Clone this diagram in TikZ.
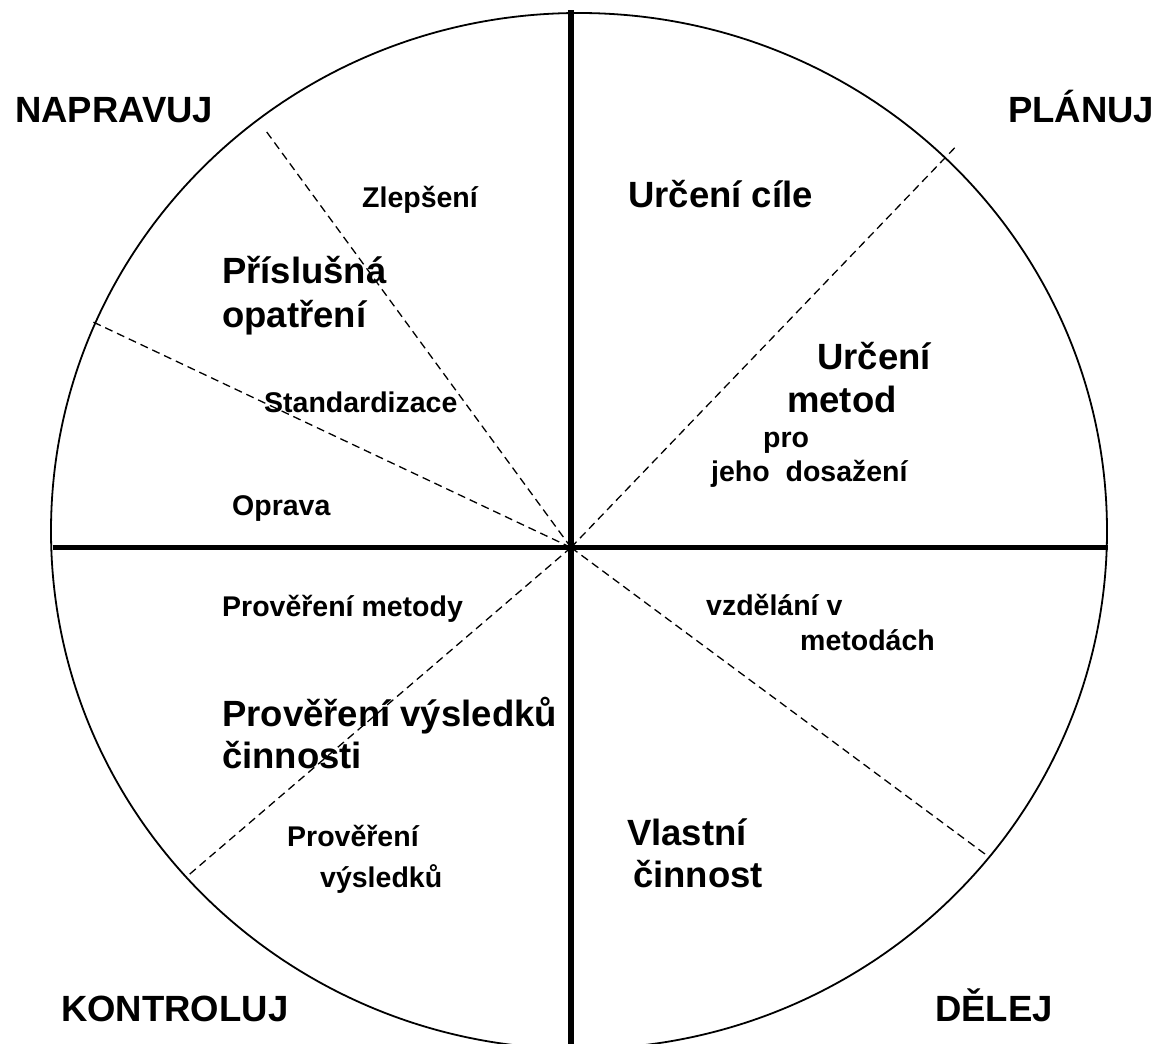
\documentclass[tikz,border=0pt]{standalone}
\usepackage{fontspec}
\setmainfont{Liberation Sans}
\begin{document}
\begin{tikzpicture}[x=1pt,y=-1pt,
  big/.style={font=\fontsize{36.5}{40}\selectfont\bfseries, inner sep=0pt, anchor=base west},
  small/.style={font=\fontsize{28.5}{32}\selectfont\bfseries, inner sep=0pt, anchor=base west},
  axis/.style={line width=5.5pt},
  rim/.style={line width=1.8pt},
  sector/.style={line width=1.3pt, dash pattern=on 8pt off 5pt}]
\useasboundingbox (0,0) rectangle (1157,1044);
\clip (0,0) rectangle (1157,1044);
\fill[white] (0,0) rectangle (1157,1044);
% circle
\draw[rim] (579,531) ellipse [x radius=528pt, y radius=518pt];
% axes
\coordinate (O) at (571,547.5);
\coordinate (L) at (52.5,547.5);
\coordinate (R) at (1107.5,547.5);
\coordinate (T) at (571,10);
\coordinate (B) at (571,1050);
\draw[line width=4.8pt] (L) -- (R);
\draw[line width=6pt] (T) -- (B);
% dashed sector lines
\coordinate (d1) at (266,131);
\coordinate (d2) at (91,321);
\coordinate (d3) at (955,147.5);
\coordinate (d4) at (989,857);
\coordinate (d5) at (187.5,876);
\foreach \p in {d1,d2,d3,d4,d5} \draw[sector] (O) -- (\p);
% corner labels
\node[big] (napravuj) at (15,122) {NAPRAVUJ};
\node[big] (planuj) at (1008,122) {PLÁNUJ};
\node[big] (kontroluj) at (61,1021) {KONTROLUJ};
\node[big] (delej) at (935,1021) {DĚLEJ};
% NAPRAVUJ quadrant
\node[small] (zlepseni) at (362,207) {Zlepšení};
\node[big] (prisl) at (222,283) {Příslušná};
\node[big] (opatr) at (222,327) {opatření};
\node[small] (stand) at (264,412) {Standardizace};
\node[small] (oprava) at (232,515) {Oprava};
% PLANUJ quadrant
\node[big] (cile) at (628,207) {Určení cíle};
\node[big] (urceni) at (817,369) {Určení};
\node[big] (metod) at (787,412) {metod};
\node[small] (pro) at (763,447) {pro};
\node[small] (jeho) at (711,481) {jeho\ \ dosažení};
% KONTROLUJ quadrant
\node[small] (prmet) at (222,616) {Prověření metody};
\node[big] (prvys) at (222,726) {Prověření výsledků};
\node[big] (cinnosti) at (222,768) {činnosti};
\node[small] (prov2) at (287,846) {Prověření};
\node[small] (vysl2) at (320,887) {výsledků};
% DELEJ quadrant
\node[small] (vzdel) at (706,615) {vzdělání v};
\node[small] (metodach) at (800,650) {metodách};
\node[big] (vlastni) at (627,845) {Vlastní};
\node[big] (cinnost) at (633,887) {činnost};
\end{tikzpicture}
\end{document}
